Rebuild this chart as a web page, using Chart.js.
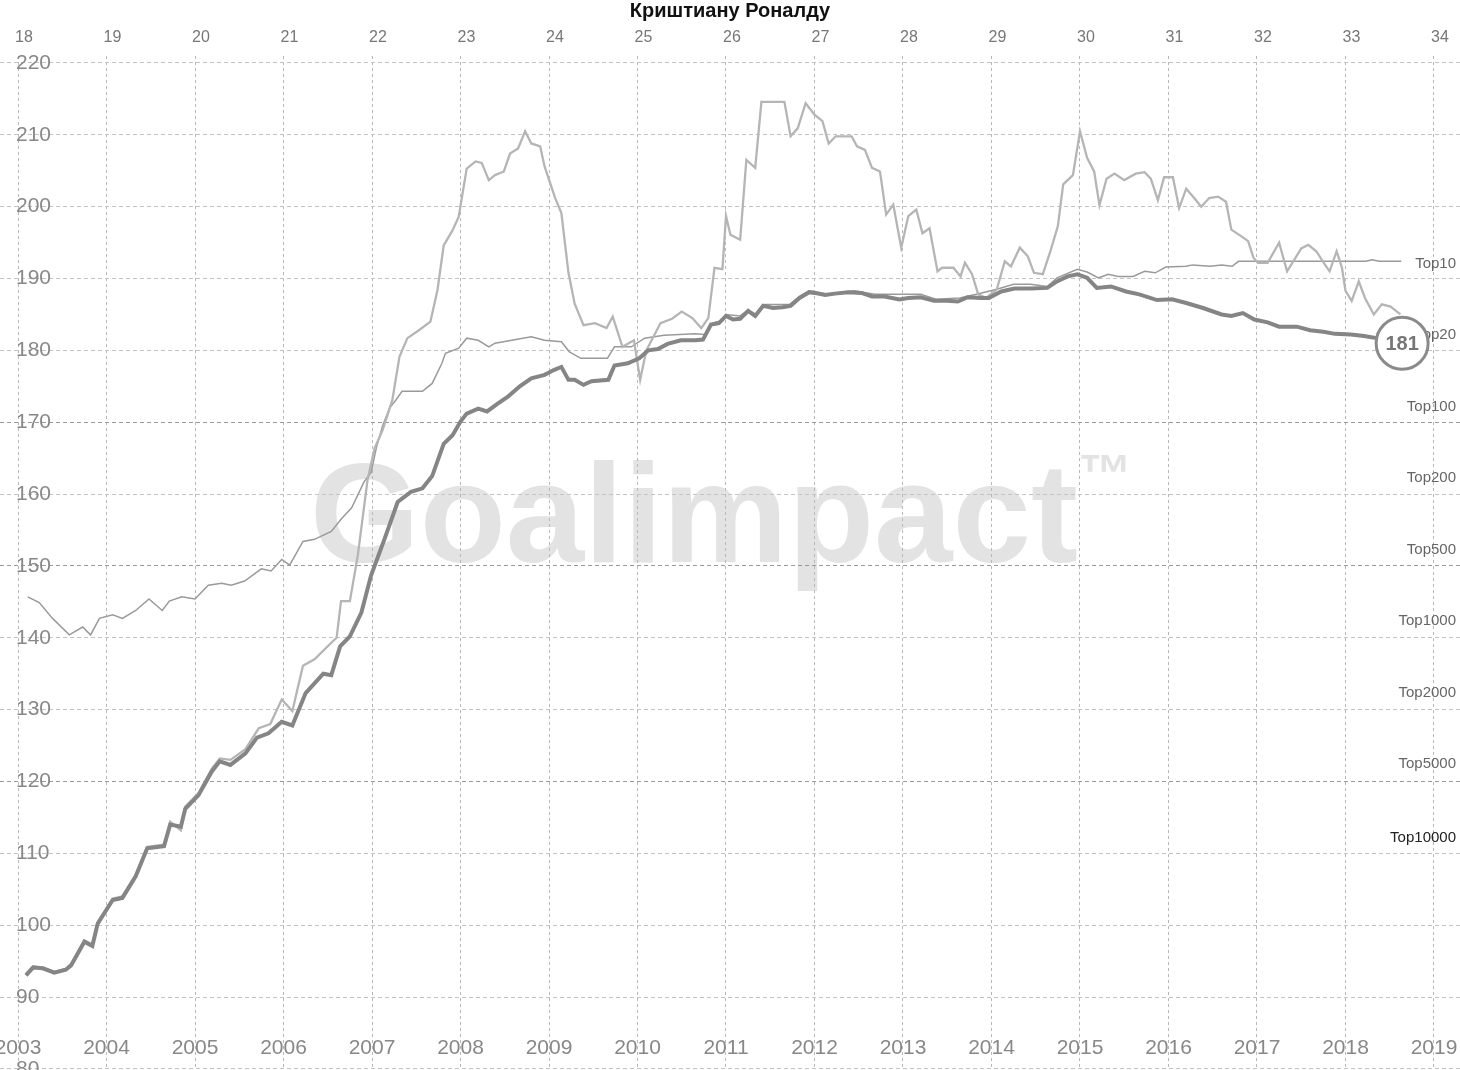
<!DOCTYPE html>
<html>
<head>
<meta charset="utf-8">
<script src="https://cdn.jsdelivr.net/npm/chart.js@4/dist/chart.umd.min.js"></script>
<style>
  body { margin: 0; background: #fff; }
</style>
</head>
<body>
<canvas id="graphique" width="1460" height="1070"></canvas>
<script>
const titre = "Криштиану Роналду";
const annees = [2003, 2004, 2005, 2006, 2007, 2008, 2009, 2010, 2011, 2012, 2013, 2014, 2015, 2016, 2017, 2018, 2019];
const ages = [18, 19, 20, 21, 22, 23, 24, 25, 26, 27, 28, 29, 30, 31, 32, 33, 34];
const valeursY = [80, 90, 100, 110, 120, 130, 140, 150, 160, 170, 180, 190, 200, 210, 220];
const rangsLabels = ["Top10", "Top20", "Top100", "Top200", "Top500", "Top1000", "Top2000", "Top5000", "Top10000"];
const rangsValeurs = [192.1, 182.1, 172.2, 162.2, 152.2, 142.3, 132.4, 122.5, 112.2];

// Goalimpact du joueur (ligne epaisse)
const giDates = [2003.09, 2003.17, 2003.28, 2003.41, 2003.54, 2003.60, 2003.75, 2003.84, 2003.90, 2004.07,
  2004.18, 2004.33, 2004.46, 2004.65, 2004.72, 2004.84, 2004.89, 2005.04, 2005.19, 2005.28,
  2005.40, 2005.57, 2005.70, 2005.83, 2005.98, 2006.10, 2006.25, 2006.45, 2006.54, 2006.64,
  2006.75, 2006.88, 2006.99, 2007.14, 2007.29, 2007.44, 2007.57, 2007.68, 2007.81, 2007.91,
  2008.00, 2008.07, 2008.20, 2008.30, 2008.42, 2008.54, 2008.67, 2008.80, 2008.95, 2009.06,
  2009.14, 2009.22, 2009.29, 2009.39, 2009.48, 2009.67, 2009.74, 2009.89, 2010.02, 2010.12,
  2010.23, 2010.34, 2010.49, 2010.65, 2010.74, 2010.83, 2010.92, 2011.00, 2011.08, 2011.16,
  2011.25, 2011.33, 2011.42, 2011.53, 2011.64, 2011.73, 2011.83, 2011.94, 2012.00, 2012.12,
  2012.23, 2012.38, 2012.53, 2012.65, 2012.79, 2012.96, 2013.06, 2013.20, 2013.35, 2013.50,
  2013.62, 2013.73, 2013.88, 2013.97, 2014.11, 2014.26, 2014.44, 2014.63, 2014.74, 2014.86,
  2014.97, 2015.08, 2015.19, 2015.35, 2015.52, 2015.67, 2015.87, 2016.04, 2016.20, 2016.39,
  2016.60, 2016.71, 2016.84, 2016.97, 2017.12, 2017.25, 2017.45, 2017.60, 2017.75, 2017.88,
  2018.06, 2018.21, 2018.40, 2018.64];
const giValeurs = [93.0, 94.1, 94.0, 93.4, 93.8, 94.4, 97.7, 97.1, 100.2, 103.5,
  103.8, 106.8, 110.7, 111.0, 114.0, 113.7, 116.2, 118.1, 121.4, 122.8,
  122.3, 123.9, 126.1, 126.7, 128.3, 127.8, 132.3, 135.0, 134.8, 138.8,
  140.2, 143.5, 148.7, 153.7, 158.9, 160.3, 160.8, 162.5, 167.0, 168.2,
  170.1, 171.2, 171.9, 171.5, 172.6, 173.6, 175.0, 176.1, 176.6, 177.3,
  177.7, 175.9, 175.9, 175.2, 175.7, 175.9, 177.9, 178.2, 178.9, 180.0,
  180.2, 180.9, 181.4, 181.4, 181.5, 183.6, 183.8, 184.8, 184.3, 184.4,
  185.5, 184.8, 186.2, 185.9, 186.0, 186.2, 187.3, 188.1, 188.0, 187.7,
  187.9, 188.1, 188.0, 187.5, 187.5, 187.1, 187.3, 187.4, 186.9, 186.9,
  186.8, 187.4, 187.3, 187.3, 188.2, 188.6, 188.6, 188.7, 189.6, 190.3,
  190.6, 190.1, 188.7, 188.9, 188.2, 187.8, 187.0, 187.1, 186.6, 185.9,
  185.0, 184.8, 185.2, 184.3, 183.9, 183.3, 183.3, 182.8, 182.6, 182.3,
  182.2, 182.0, 181.6, 181.0];

// forme du moment (ligne claire)
const formeDates = [2003.09, 2003.17, 2003.28, 2003.41, 2003.54, 2003.60, 2003.75, 2003.84, 2003.90, 2004.07,
  2004.18, 2004.33, 2004.46, 2004.65, 2004.72, 2004.84, 2004.89, 2005.04, 2005.19, 2005.28,
  2005.40, 2005.57, 2005.72, 2005.85, 2005.98, 2006.04, 2006.10, 2006.22, 2006.35, 2006.54,
  2006.60, 2006.65, 2006.75, 2006.84, 2006.95, 2007.03, 2007.12, 2007.23, 2007.31, 2007.40,
  2007.53, 2007.66, 2007.74, 2007.81, 2007.91, 2007.98, 2008.07, 2008.17, 2008.24, 2008.32,
  2008.39, 2008.49, 2008.56, 2008.65, 2008.73, 2008.80, 2008.90, 2008.95, 2009.07, 2009.14,
  2009.22, 2009.29, 2009.39, 2009.52, 2009.65, 2009.72, 2009.83, 2009.96, 2010.03, 2010.10,
  2010.26, 2010.39, 2010.50, 2010.62, 2010.72, 2010.80, 2010.87, 2010.96, 2011.00, 2011.05,
  2011.16, 2011.23, 2011.33, 2011.40, 2011.66, 2011.73, 2011.81, 2011.90, 2012.00, 2012.09,
  2012.16, 2012.24, 2012.42, 2012.48, 2012.57, 2012.65, 2012.74, 2012.81, 2012.89, 2012.98,
  2013.06, 2013.15, 2013.22, 2013.30, 2013.39, 2013.44, 2013.57, 2013.65, 2013.70, 2013.78,
  2013.85, 2013.94, 2014.06, 2014.15, 2014.22, 2014.32, 2014.41, 2014.48, 2014.58, 2014.67,
  2014.75, 2014.81, 2014.92, 2015.00, 2015.08, 2015.16, 2015.22, 2015.30, 2015.39, 2015.50,
  2015.63, 2015.73, 2015.80, 2015.88, 2015.95, 2016.05, 2016.12, 2016.20, 2016.29, 2016.37,
  2016.46, 2016.56, 2016.65, 2016.71, 2016.82, 2016.90, 2016.96, 2017.01, 2017.12, 2017.25,
  2017.34, 2017.50, 2017.58, 2017.67, 2017.77, 2017.82, 2017.90, 2017.96, 2018.00, 2018.07,
  2018.15, 2018.22, 2018.32, 2018.41, 2018.51, 2018.62];
const formeValeurs = [93.2, 94.3, 94.1, 93.5, 93.9, 94.6, 97.9, 97.3, 100.4, 103.7,
  104.0, 107.0, 110.9, 111.2, 114.4, 113.2, 116.5, 118.4, 121.8, 123.2,
  123.0, 124.5, 127.4, 128.0, 131.4, 130.6, 129.8, 136.1, 137.0, 139.3,
  140.0, 145.1, 145.1, 151.5, 162.0, 166.4, 168.9, 173.1, 179.1, 181.7,
  182.8, 184.0, 188.4, 194.6, 196.7, 198.6, 205.3, 206.3, 206.1, 203.7,
  204.4, 204.9, 207.4, 208.1, 210.5, 208.8, 208.4, 205.6, 201.2, 199.1,
  190.8, 186.5, 183.5, 183.8, 183.1, 184.7, 180.5, 181.4, 175.9, 180.0,
  183.8, 184.4, 185.4, 184.5, 183.1, 184.5, 191.5, 191.3, 198.7, 196.1,
  195.4, 206.5, 205.4, 214.6, 214.6, 209.8, 210.9, 214.4, 212.8, 211.9,
  208.8, 209.8, 209.8, 208.4, 207.9, 205.4, 204.9, 198.9, 200.3, 194.3,
  198.7, 199.6, 196.3, 197.0, 191.0, 191.5, 191.5, 190.3, 192.2, 190.6,
  187.8, 187.3, 188.5, 192.4, 191.7, 194.3, 193.1, 190.8, 190.6, 194.0,
  197.3, 203.1, 204.4, 210.5, 206.8, 204.9, 200.2, 203.9, 204.6, 203.7,
  204.6, 204.8, 203.9, 200.9, 204.1, 204.1, 199.8, 202.5, 201.2, 200.0,
  201.2, 201.4, 200.7, 196.8, 195.9, 195.2, 192.9, 192.2, 192.2, 195.0,
  191.0, 194.2, 194.7, 193.8, 191.9, 191.0, 193.8, 191.5, 188.3, 186.9,
  189.6, 187.3, 185.0, 186.4, 186.1, 185.0];

// courbe de reference (ligne fine)
const refDates = [2003.11, 2003.24, 2003.39, 2003.58, 2003.73, 2003.82, 2003.92, 2004.07, 2004.18, 2004.33,
  2004.48, 2004.63, 2004.71, 2004.85, 2005.00, 2005.15, 2005.30, 2005.41, 2005.56, 2005.75,
  2005.86, 2005.98, 2006.07, 2006.22, 2006.35, 2006.54, 2006.65, 2006.77, 2006.91, 2006.99,
  2007.05, 2007.12, 2007.20, 2007.27, 2007.34, 2007.57, 2007.68, 2007.79, 2007.83, 2007.98,
  2008.07, 2008.20, 2008.32, 2008.39, 2008.58, 2008.80, 2008.95, 2009.14, 2009.23, 2009.36,
  2009.66, 2009.74, 2009.93, 2010.08, 2010.30, 2010.65, 2010.76, 2010.85, 2010.94, 2011.00,
  2011.16, 2011.25, 2011.34, 2011.44, 2011.72, 2011.83, 2011.94, 2012.00, 2012.15, 2012.45,
  2012.68, 2012.98, 2013.20, 2013.38, 2013.64, 2013.83, 2014.06, 2014.25, 2014.44, 2014.63,
  2014.74, 2014.97, 2015.08, 2015.21, 2015.32, 2015.43, 2015.60, 2015.73, 2015.85, 2015.97,
  2016.20, 2016.27, 2016.47, 2016.60, 2016.72, 2016.79, 2017.48, 2018.23, 2018.30, 2018.38,
  2018.63];
const refValeurs = [145.7, 144.9, 142.7, 140.4, 141.5, 140.4, 142.7, 143.2, 142.7, 143.8,
  145.4, 143.8, 145.1, 145.7, 145.4, 147.3, 147.6, 147.3, 147.9, 149.6,
  149.3, 150.9, 150.1, 153.4, 153.7, 154.8, 156.5, 158.1, 161.7, 163.0,
  166.5, 169.5, 172.0, 173.1, 174.3, 174.3, 175.4, 178.2, 179.6, 180.3,
  181.7, 181.4, 180.5, 181.0, 181.4, 181.9, 181.4, 181.2, 179.8, 178.9,
  178.9, 180.5, 180.5, 181.7, 182.1, 182.3, 182.2, 183.8, 184.1, 185.0,
  184.8, 185.6, 185.0, 186.4, 186.4, 187.5, 188.3, 188.2, 187.8, 188.3,
  187.8, 187.8, 187.8, 187.1, 187.3, 187.8, 188.5, 189.2, 189.2, 188.9,
  190.1, 191.3, 190.9, 190.1, 190.6, 190.3, 190.3, 191.0, 190.8, 191.6,
  191.7, 191.9, 191.7, 191.9, 191.7, 192.4, 192.4, 192.4, 192.6, 192.4,
  192.4];

const enPoints = (xs, ys) => xs.map((x, i) => ({ x: x, y: ys[i] }));

const police = "'Liberation Sans', Arial, sans-serif";

const decor = {
  id: "decor",
  beforeDraw(chart) {
    const ctx = chart.ctx;
    ctx.save();
    ctx.fillStyle = "#e3e3e3";
    ctx.textBaseline = "alphabetic";
    ctx.textAlign = "left";
    ctx.font = "bold 141px " + police;
    ctx.fillText("Goalimpact", 310, 562);
    ctx.font = "bold 54px " + police;
    ctx.fillText("™", 1078, 492);
    ctx.restore();
  },
  afterDraw(chart) {
    const ctx = chart.ctx;
    const x = chart.scales.x;
    const y = chart.scales.y;
    const area = chart.chartArea;
    ctx.save();

    // titre
    ctx.fillStyle = "#111";
    ctx.textAlign = "center";
    ctx.textBaseline = "middle";
    ctx.font = "bold 20px " + police;
    ctx.fillText(titre, 730, 11);

    // ages en haut
    ctx.fillStyle = "#777";
    ctx.font = "16px " + police;
    ages.forEach((a, i) => {
      ctx.fillText(String(a), x.getPixelForValue(annees[i]) + 6, area.top - 18);
    });

    // annees en bas
    ctx.font = "21px " + police;
    ctx.fillStyle = "#888";
    annees.forEach((an) => {
      ctx.fillText(String(an), x.getPixelForValue(an), area.bottom - 22);
    });

    // valeurs a gauche
    ctx.textAlign = "left";
    ctx.font = "21px " + police;
    valeursY.forEach((v) => {
      ctx.fillText(String(v), x.getPixelForValue(annees[0]) - 2, y.getPixelForValue(v));
    });

    // rangs a droite
    ctx.textAlign = "right";
    ctx.font = "15px " + police;
    rangsLabels.forEach((lab, i) => {
      ctx.fillStyle = lab === "Top10000" ? "#222" : "#666";
      ctx.fillText(lab, 1456, y.getPixelForValue(rangsValeurs[i]));
    });

    // cercle de la valeur actuelle
    const n = giDates.length - 1;
    const cx = x.getPixelForValue(giDates[n]);
    const cy = y.getPixelForValue(giValeurs[n]);
    ctx.beginPath();
    ctx.arc(cx, cy, 26, 0, Math.PI * 2);
    ctx.fillStyle = "#fff";
    ctx.fill();
    ctx.lineWidth = 3;
    ctx.strokeStyle = "#8a8a8a";
    ctx.stroke();
    ctx.fillStyle = "#777";
    ctx.textAlign = "center";
    ctx.font = "bold 20px " + police;
    ctx.fillText(String(Math.round(giValeurs[n])), cx, cy + 1);

    ctx.restore();
  }
};

const grandesLignes = [170, 150, 120];

new Chart(document.querySelector("#graphique"), {
  type: "line",
  data: {
    datasets: [
      {
        label: "Goalimpact",
        data: enPoints(giDates, giValeurs),
        borderColor: "#858585",
        borderWidth: 4,
        pointRadius: 0,
        tension: 0,
      },
      {
        label: "Forme",
        data: enPoints(formeDates, formeValeurs),
        borderColor: "#b5b5b5",
        borderWidth: 2.3,
        pointRadius: 0,
        tension: 0,
      },
      {
        label: "Reference",
        data: enPoints(refDates, refValeurs),
        borderColor: "#9a9a9a",
        borderWidth: 1.5,
        pointRadius: 0,
        tension: 0,
      },
    ],
  },
  options: {
    responsive: false,
    animation: false,
    devicePixelRatio: 1,
    layout: { padding: { top: 56, left: 0, right: 0, bottom: 0 }, autoPadding: false },
    plugins: {
      legend: { display: false },
      tooltip: { enabled: false },
    },
    scales: {
      x: {
        type: "linear",
        min: 2002.7966,
        max: 2019.2938,
        ticks: { display: false, stepSize: 1, includeBounds: false },
        grid: { drawTicks: false, color: "#b8b8b8", lineWidth: 1 },
        border: { display: false, dash: [3, 3] },
      },
      y: {
        type: "linear",
        min: 79.84,
        max: 220.974,
        ticks: { display: false, stepSize: 10, includeBounds: false },
        grid: {
          drawTicks: false,
          lineWidth: 1,
          color: (c) => (grandesLignes.includes(c.tick && c.tick.value) ? "#9a9a9a" : "#c4c4c4"),
        },
        border: { display: false, dash: [4, 3] },
      },
    },
  },
  plugins: [decor],
});
</script>
</body>
</html>
